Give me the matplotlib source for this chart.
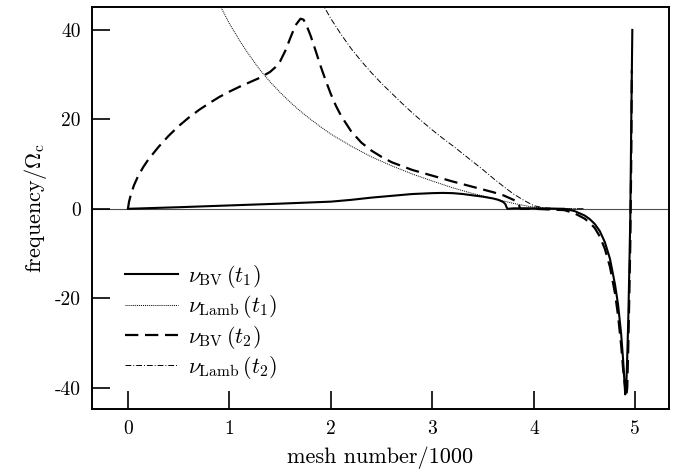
import numpy as np
import matplotlib.pyplot as plt

plt.rcParams['font.family'] = ['cmr10', 'DejaVu Serif']
plt.rcParams['mathtext.fontset'] = 'cm'
plt.rcParams['axes.unicode_minus'] = False
plt.rcParams['axes.formatter.use_mathtext'] = False

# nu_BV at t1 (solid)
x_bv1 = [0, 0.5, 1.0, 1.5, 2.0, 2.2, 2.4, 2.6, 2.8, 3.0, 3.1, 3.2, 3.3, 3.4, 3.5,
         3.6, 3.65, 3.7, 3.72, 3.73, 3.74, 3.8, 4.0, 4.3, 4.4, 4.5, 4.55, 4.6,
         4.65, 4.7, 4.75, 4.8, 4.83, 4.86, 4.88, 4.9, 4.91, 4.92, 4.93, 4.94,
         4.95, 4.96, 4.97]
y_bv1 = [0, 0.35, 0.75, 1.15, 1.6, 2.0, 2.5, 2.9, 3.3, 3.5, 3.55, 3.5, 3.3, 3.0,
         2.7, 2.3, 2.0, 1.5, 1.0, 0.4, 0.0, 0.1, 0.1, 0.0, -0.5, -1.5, -2.3, -3.4,
         -5.0, -7.5, -11.2, -17.0, -21.5, -28.0, -34.0, -41.5, -40.0, -33.0,
         -25.0, -14.0, -2.0, 20.0, 40.0]

# nu_Lamb at t1 (fine dotted)
x_lamb1 = [0.9, 1.0, 1.1, 1.2, 1.3, 1.4, 1.5, 1.6, 1.7, 1.8, 1.9, 2.0, 2.2, 2.4,
           2.6, 2.8, 3.0, 3.2, 3.4, 3.6, 3.8, 3.96, 4.1, 4.3, 4.5]
y_lamb1 = [45.8, 41.4, 37.6, 34.2, 31.1, 28.4, 26.0, 23.8, 21.8, 20.0, 18.3, 16.7,
           14.0, 11.6, 9.6, 7.8, 6.2, 4.7, 3.4, 2.3, 1.2, 0.5, 0.15, 0.0, 0.0]

# nu_BV at t2 (dashed)
x_bv2 = [0, 0.01, 0.03, 0.06, 0.1, 0.15, 0.2, 0.3, 0.4, 0.5, 0.6, 0.7, 0.8, 0.9,
         1.0, 1.1, 1.2, 1.3, 1.4, 1.45, 1.5, 1.55, 1.6, 1.65, 1.7, 1.73, 1.76,
         1.8, 1.85, 1.9, 1.95, 2.0, 2.05, 2.1, 2.2, 2.3, 2.4, 2.5, 2.6, 2.8, 3.0,
         3.2, 3.4, 3.6, 3.7, 3.8, 3.85, 3.86, 3.87, 4.0, 4.3, 4.4, 4.5, 4.55, 4.6,
         4.65, 4.7, 4.75, 4.8, 4.83, 4.86, 4.88, 4.91, 4.92, 4.93, 4.94, 4.95,
         4.96, 4.965]
y_bv2 = [0, 1.5, 3.3, 5.3, 7.3, 9.3, 11.0, 13.8, 16.3, 18.5, 20.4, 22.1, 23.6, 25.0,
         26.2, 27.3, 28.3, 29.3, 30.6, 31.6, 33.0, 35.3, 38.2, 41.0, 42.5, 42.3,
         41.0, 38.7, 35.3, 31.8, 28.6, 25.6, 23.0, 20.8, 17.3, 14.8, 13.0, 11.6,
         10.4, 8.7, 7.4, 6.1, 4.9, 3.7, 3.0, 2.0, 1.2, 0.3, 0, 0, -0.3, -1.0,
         -2.2, -3.1, -4.3, -6.2, -9.0, -13.0, -19.0, -24.0, -30.5, -36.0, -42.0,
         -40.0, -31.0, -20.0, -8.0, 12.0, 31.0]

# nu_Lamb at t2 (fine dash-dot)
x_lamb2 = [1.9, 2.0, 2.1, 2.2, 2.3, 2.4, 2.5, 2.6, 2.7, 2.8, 2.9, 3.0, 3.1, 3.2,
           3.3, 3.4, 3.5, 3.6, 3.7, 3.8, 3.9, 4.0, 4.1, 4.3, 4.5]
y_lamb2 = [46.5, 42.5, 39.0, 35.8, 33.0, 30.4, 28.0, 25.8, 23.6, 21.5, 19.5, 17.6,
           15.8, 14.1, 12.3, 10.5, 8.7, 6.8, 5.0, 3.3, 1.9, 0.7, 0.2, 0.0, 0.0]

fig = plt.figure(figsize=(6.86, 4.73), dpi=100)
ax = fig.add_axes([0.134, 0.135, 0.841, 0.850])

ax.axhline(0, color='0.3', lw=0.8, zorder=1)
ax.plot(x_bv1, y_bv1, color='black', lw=1.5, label=r'$\nu_{\rm BV}\,(t_1)$')
ax.plot(x_lamb1, y_lamb1, color='black', lw=0.7, linestyle=(0, (1, 1)),
        label=r'$\nu_{\rm Lamb}\,(t_1)$')
ax.plot(x_bv2, y_bv2, color='black', lw=1.6, linestyle=(0, (6, 3)),
        label=r'$\nu_{\rm BV}\,(t_2)$')
ax.plot(x_lamb2, y_lamb2, color='black', lw=0.7, linestyle=(0, (6, 2, 1, 2)),
        label=r'$\nu_{\rm Lamb}\,(t_2)$')

ax.set_xlim(-0.355, 5.33)
ax.set_ylim(-44.8, 45.1)
ax.set_xticks([0, 1, 2, 3, 4, 5])
ax.set_yticks([-40, -20, 0, 20, 40])
ax.tick_params(direction='in', length=13, width=1.2, labelsize=14, pad=8)
for s in ax.spines.values():
    s.set_linewidth(1.4)

ax.set_xlabel('mesh number/1000', fontsize=16, labelpad=6)
ax.set_ylabel(r'frequency/$\Omega_{\rm c}$', fontsize=16, labelpad=4)

ax.legend(loc='lower left', bbox_to_anchor=(0.042, 0.048), frameon=False,
          fontsize=16, handlelength=2.4, handletextpad=0.45, labelspacing=0.15,
          borderaxespad=0)

fig.savefig('out.png', dpi=100)
